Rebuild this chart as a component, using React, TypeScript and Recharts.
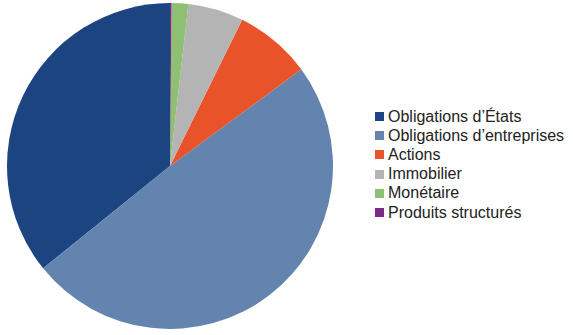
import React from 'react';
import { PieChart, Pie, Cell, Legend } from 'recharts';

const categories = [
  'Obligations d\u2019États',
  'Obligations d\u2019entreprises',
  'Actions',
  'Immobilier',
  'Monétaire',
  'Produits structurés',
];
const values = [35.8, 49.3, 7.6, 5.5, 1.65, 0.15];
const colors = ['#1c4481', '#6384ae', '#e8532a', '#b4b4b4', '#8dc072', '#7b2a86'];

const data = categories.map((name, i) => ({ name, value: values[i] }));

const renderLegend = () => (
  <div style={{ fontFamily: '"Liberation Sans", Arial, sans-serif', fontSize: 16, color: '#222' }}>
    {categories.map((c, i) => (
      <div key={c} style={{ display: 'flex', alignItems: 'center', height: 19.2, whiteSpace: 'nowrap' }}>
        <span style={{ display: 'inline-block', width: 9, height: 9, background: colors[i], marginRight: 4 }} />
        <span>{c}</span>
      </div>
    ))}
  </div>
);

export default function App() {
  return (
    <div style={{ position: 'absolute', left: 0, top: 0, width: 573, height: 335, background: '#fff' }}>
      <PieChart width={573} height={335} margin={{ top: 0, right: 0, bottom: 0, left: 0 }}>
        <Pie
          data={data}
          dataKey="value"
          nameKey="name"
          cx={170}
          cy={166}
          outerRadius={163}
          startAngle={90}
          endAngle={450}
          stroke="none"
          isAnimationActive={false}
        >
          {data.map((d, i) => (
            <Cell key={d.name} fill={colors[i]} />
          ))}
        </Pie>
        <Legend
          content={renderLegend}
          wrapperStyle={{ position: 'absolute', left: 375, top: 107, width: 198 }}
        />
      </PieChart>
    </div>
  );
}
